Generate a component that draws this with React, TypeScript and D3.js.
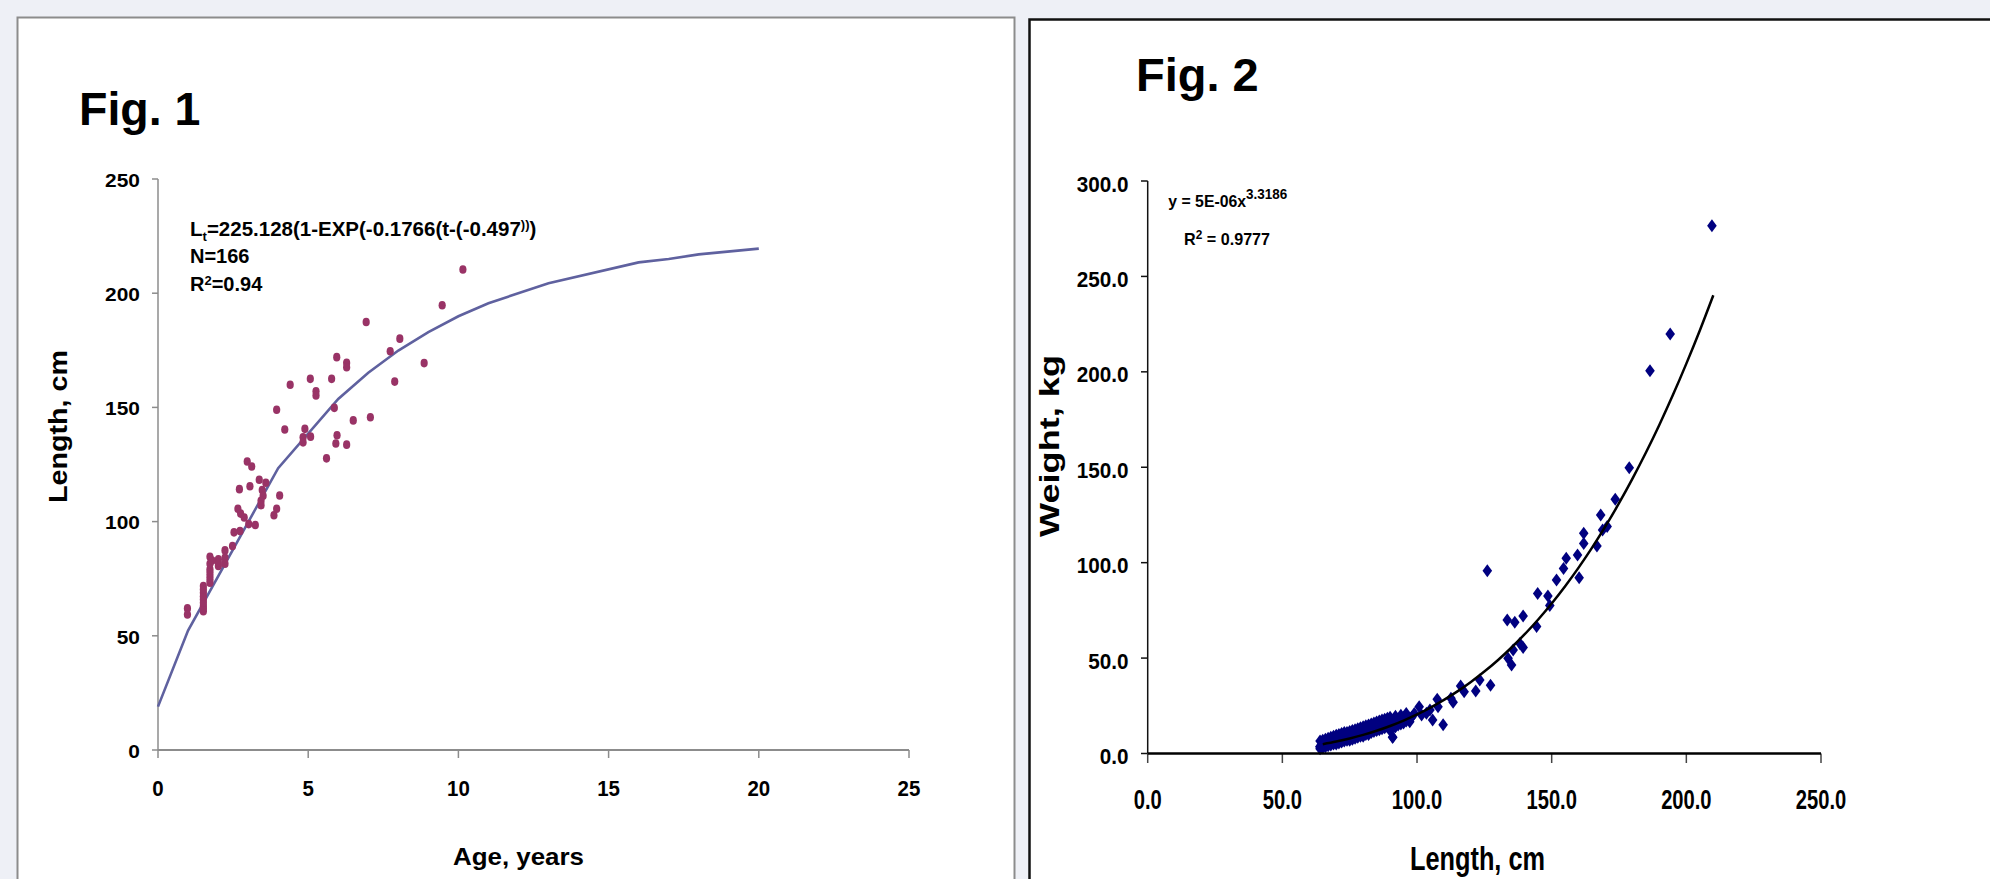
import React from "react";
import * as d3 from "d3";

// ---------- Fig. 1 data (von Bertalanffy growth) ----------
const ageTicks = [0, 5, 10, 15, 20, 25];
const lenTicks1 = [0, 50, 100, 150, 200, 250];

const obsAge = [
  3.95, 5.87, 7.07, 6.5, 4.22, 4.89, 4.83, 5.08, 4.83, 5.96, 5.92, 6.28, 5.61, 2.97, 3.12, 3.37, 3.59, 2.71,
  3.06, 3.47, 3.5, 3.43, 3.43, 4.05, 3.95, 3.86, 2.66, 2.75, 2.87, 3.02, 3.24, 2.73, 2.53, 2.48, 1.73, 2.23,
  2.01, 2.23, 2.01, 2.23, 1.73, 1.73, 1.73, 1.51, 1.51, 1.51, 1.51, 1.51, 0.98, 0.98, 1.51, 1.51, 1.51, 1.51,
  1.73, 1.73, 1.73, 2.01, 1.8, 9.46, 6.93, 8.05, 7.73, 8.86, 5.95, 6.28, 6.28, 7.88, 4.4, 5.07, 5.78, 5.26,
  5.26, 10.15,
];
const obsLength = [
  149.0, 149.8, 145.7, 144.3, 140.3, 140.6, 136.9, 137.2, 134.7, 137.8, 134.2, 133.7, 127.7, 126.3, 124.1,
  118.3, 117.0, 114.2, 115.5, 113.8, 111.3, 109.1, 107.2, 111.4, 105.6, 102.8, 105.6, 103.5, 101.8, 98.9, 98.5,
  95.9, 95.3, 89.3, 84.6, 87.4, 83.5, 84.2, 80.6, 81.6, 79.1, 76.2, 73.2, 71.8, 68.8, 65.9, 63.0, 60.8, 62.0,
  59.3, 62.0, 64.5, 67.3, 70.3, 74.7, 77.7, 81.5, 82.0, 83.0, 194.7, 187.4, 180.1, 174.6, 169.4, 172.0, 169.5,
  167.6, 161.3, 159.9, 162.5, 162.5, 157.1, 155.2, 210.4,
];

const fitAge = [0, 1, 4, 6, 7, 8, 9, 10, 11, 13, 16, 17, 18, 20];
const fitLength = [19, 52.3, 123.4, 153.7, 165.2, 174.9, 183.0, 189.9, 195.6, 204.4, 213.5, 215.0, 217.0, 219.5];

// ---------- Fig. 2 data (length-weight) ----------
const lenTicks2 = [0, 50, 100, 150, 200, 250];
const wtTicks = [0, 50, 100, 150, 200, 250, 300];

const lwLength = [
  209.5, 194.0, 186.5, 178.8, 173.6, 168.2, 170.6, 168.9, 161.9, 161.9, 166.8, 155.4, 159.6, 154.4, 160.2,
  151.8, 144.8, 148.6, 126.1, 149.3, 144.4, 133.5, 136.3, 139.4, 138.2, 139.4, 135.7, 133.8, 135.1, 127.3,
  123.3, 121.8, 117.5, 116.2, 113.4, 112.6, 109.7, 107.5, 107.8, 105.8, 104.8, 100.8, 101.7, 103.5, 97.3, 94.6,
  90.9, 91.8, 89.3, 87.4, 85.0, 82.5, 80.0, 77.6, 75.1, 72.6, 70.1, 67.7, 65.2, 63.9,
  64, 64, 64.5, 65, 65, 65.5, 66, 66, 66.5, 67, 67, 67.5, 68, 68, 69, 69, 69.5, 70, 70, 70.5, 71, 71, 72, 72,
  72.5, 73, 73, 74, 74, 74.5, 75, 75, 76, 76, 76.5, 77, 77, 78, 78, 78.5, 79, 79, 80, 80, 81, 81, 81.5, 82, 82,
  83, 83, 83.5, 84, 84, 85, 85, 86, 86, 86.5, 87, 87, 88, 88, 89, 89, 89.5, 90, 90, 91, 91, 92, 92, 93, 93, 94,
  94, 95, 95, 96, 96, 97, 98, 99,
];
const lwWeight = [
  276.6, 219.8, 200.6, 149.8, 133.2, 125.0, 118.9, 117.1, 115.4, 110.1, 108.7, 102.3, 104.0, 97.0, 92.1, 90.9,
  83.9, 82.5, 95.8, 77.5, 66.5, 70.0, 68.8, 72.1, 57.7, 55.6, 54.2, 49.9, 46.4, 35.7, 38.5, 32.8, 32.4, 35.4,
  26.8, 28.9, 15.1, 28.4, 24.5, 17.6, 22.8, 24.5, 20.2, 21.1, 16.7, 18.4, 8.5, 14.0, 16.7, 14.0, 13.2, 11.4,
  10.6, 9.2, 8.8, 7.1, 6.7, 6.3, 5.7, 3.6,
  2.5, 6.5, 4.5, 3, 7, 5.5, 3.5, 7.5, 5, 4, 8, 6, 4.5, 8.5, 5, 9, 7, 5, 9.5, 7.5, 5.5, 10, 6, 10.5, 8, 6.5, 11,
  7, 11, 9, 7, 11.5, 7.5, 12, 10, 8, 12.5, 8.5, 13, 10.5, 9, 13.5, 9, 14, 10, 14.5, 12, 10, 15, 11, 15.5, 13,
  11.5, 16, 12, 16.5, 12.5, 17, 14.5, 13, 17.5, 13.5, 18, 14, 18.5, 16, 12, 19, 8.5, 16, 14, 19.5, 15, 18,
  15.5, 20, 16, 19, 17, 21, 18, 19, 21,
];

const powLength = [65, 70, 75, 80, 85, 90, 95, 100, 105, 110, 115, 120, 125, 130, 135, 140, 145, 150, 155, 160,
  165, 170, 175, 180, 185, 190, 195, 200, 205, 210];
const powWeight = [4.9, 6.27, 7.88, 9.76, 11.94, 14.43, 17.27, 20.48, 24.07, 28.09, 32.55, 37.5, 42.93, 48.89,
  55.42, 62.52, 70.24, 78.61, 87.65, 97.39, 107.86, 119.11, 131.14, 144.0, 157.7, 172.3, 187.8, 204.3, 221.7,
  240.1];

const FONT = "'Liberation Sans', Arial, Helvetica, sans-serif";

export default function App() {
  // Fig 1 scales
  const x1 = d3.scaleLinear().domain([0, 25]).range([158, 909]);
  const y1 = d3.scaleLinear().domain([0, 250]).range([750, 179]);
  const line1 = d3
    .line<number>()
    .x((_, i) => x1(fitAge[i]))
    .y((d) => y1(d));

  // Fig 2 scales
  const x2 = d3.scaleLinear().domain([0, 250]).range([1147.7, 1821]);
  const y2 = d3.scaleLinear().domain([0, 300]).range([753.5, 181]);
  const line2 = d3
    .line<number>()
    .x((_, i) => x2(powLength[i]))
    .y((d) => y2(d))
    .curve(d3.curveMonotoneX);

  const diamond = "M0,-6.5L4.8,0L0,6.5L-4.8,0Z";

  return (
    <svg
      width={1990}
      height={879}
      style={{ position: "fixed", left: 0, top: 0, background: "#eef0f6" }}
      fontFamily={FONT}
      fontWeight="bold"
    >
      <rect x={0} y={0} width={1990} height={879} fill="#eef0f6" />
      {/* Panel 1 */}
      <rect x={17.5} y={17.5} width={997} height={900} fill="#ffffff" stroke="#8c8c8c" strokeWidth={2} />
      {/* Panel 2 */}
      <rect x={1029.5} y={19.5} width={1000} height={900} fill="#ffffff" stroke="#111" strokeWidth={2.5} />

      {/* ===== Fig 1 ===== */}
      <text x={79} y={125} fontSize={46.5} fill="#000">Fig. 1</text>

      {/* axes */}
      <line x1={158} x2={158} y1={179} y2={750} stroke="#8c8c8c" strokeWidth={1.5} />
      <line x1={158} x2={909} y1={750} y2={750} stroke="#8c8c8c" strokeWidth={2} />
      {lenTicks1.map((t) => (
        <g key={"yt1" + t}>
          <line x1={152} x2={158} y1={y1(t)} y2={y1(t)} stroke="#8c8c8c" strokeWidth={1.5} />
          <text
            transform={`translate(140,${y1(t) + 7.7}) scale(1.1,1)`}
            textAnchor="end"
            fontSize={19}
            fill="#000"
          >
            {t}
          </text>
        </g>
      ))}
      {ageTicks.map((t) => (
        <g key={"xt1" + t}>
          <line x1={x1(t)} x2={x1(t)} y1={750} y2={758} stroke="#8c8c8c" strokeWidth={1.5} />
          <text
            transform={`translate(${x1(t)},796) scale(0.93,1)`}
            textAnchor="middle"
            fontSize={22}
            fill="#000"
          >
            {t}
          </text>
        </g>
      ))}
      <text
        transform="translate(66.5,426.5) rotate(-90)"
        textAnchor="middle"
        fontSize={26}
        textLength={153}
        lengthAdjust="spacingAndGlyphs"
        fill="#000"
      >
        Length, cm
      </text>
      <text
        x={453}
        y={865}
        fontSize={24}
        textLength={131}
        lengthAdjust="spacingAndGlyphs"
        fill="#000"
      >
        Age, years
      </text>

      {/* equation block */}
      <g fill="#000">
        <text x={190} y={236} fontSize={20.5}>
          L<tspan dy={4.5} fontSize={13}>t</tspan>
          <tspan dy={-4.5}>=225.128(1-EXP(-0.1766(t-(-0.497</tspan>
          <tspan dy={-7} fontSize={13}>))</tspan>
          <tspan dy={7}>)</tspan>
        </text>
        <text x={190} y={262.7} fontSize={20}>N=166</text>
        <text x={190} y={291} fontSize={20}>
          R<tspan dy={-6} fontSize={13}>2</tspan>
          <tspan dy={6}>=0.94</tspan>
        </text>
      </g>

      {/* fitted curve */}
      <path d={line1(fitLength) || ""} fill="none" stroke="#5f619f" strokeWidth={2.6} />
      {/* observations */}
      {obsLength.map((v, i) => (
        <ellipse key={"p1" + i} cx={x1(obsAge[i])} cy={y1(v)} rx={3.6} ry={4.3} fill="#993366" />
      ))}

      {/* ===== Fig 2 ===== */}
      <text x={1136} y={91} fontSize={47} fill="#000">Fig. 2</text>

      <line x1={1147.7} x2={1147.7} y1={181} y2={753.5} stroke="#111" strokeWidth={1.5} />
      {wtTicks.map((t) => (
        <g key={"yt2" + t}>
          <line x1={1141} x2={1147.7} y1={y2(t)} y2={y2(t)} stroke="#111" strokeWidth={1.5} />
          <text
            transform={`translate(1128.5,${y2(t) + 10.5}) scale(0.94,1)`}
            textAnchor="end"
            fontSize={22}
            fill="#000"
          >
            {t.toFixed(1)}
          </text>
        </g>
      ))}
      {lenTicks2.map((t) => (
        <g key={"xt2" + t}>
          <line x1={x2(t)} x2={x2(t)} y1={753.5} y2={763} stroke="#444" strokeWidth={1.5} />
          <text
            transform={`translate(${x2(t)},809.3) scale(0.72,1)`}
            textAnchor="middle"
            fontSize={28}
            fill="#000"
          >
            {t.toFixed(1)}
          </text>
        </g>
      ))}

      <text
        transform="translate(1058.5,446) rotate(-90)"
        textAnchor="middle"
        fontSize={27}
        textLength={182}
        lengthAdjust="spacingAndGlyphs"
        fill="#000"
      >
        Weight, kg
      </text>
      <text
        x={1410}
        y={870}
        fontSize={33.5}
        textLength={135}
        lengthAdjust="spacingAndGlyphs"
        fill="#000"
      >
        Length, cm
      </text>

      <g fill="#000">
        <text transform="translate(1168.3,206.7) scale(0.93,1)" fontSize={17}>
          y = 5E-06x<tspan dy={-7.5} fontSize={14.5}>3.3186</tspan>
        </text>
        <text transform="translate(1184,245) scale(0.95,1)" fontSize={17}>
          R<tspan dy={-6} fontSize={12.5}>2</tspan>
          <tspan dy={6}> = 0.9777</tspan>
        </text>
      </g>

      {lwWeight.map((v, i) => (
        <path
          key={"p2" + i}
          d={diamond}
          transform={`translate(${x2(lwLength[i])},${y2(v)})`}
          fill="#000080"
        />
      ))}
      <path d={line2(powWeight) || ""} fill="none" stroke="#000" strokeWidth={2.5} />
      <line x1={1147.7} x2={1821} y1={753.5} y2={753.5} stroke="#000" strokeWidth={2.5} />
    </svg>
  );
}
